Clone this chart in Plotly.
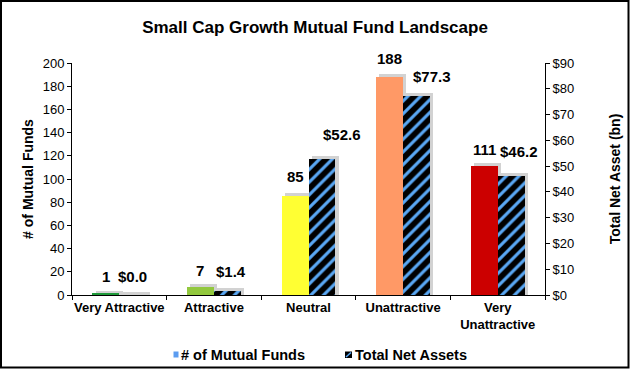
import plotly.graph_objects as go

categories = ["Very Attractive", "Attractive", "Neutral", "Unattractive", "Very<br>Unattractive"]
fund_counts = [1, 7, 85, 188, 111]
net_assets = [0.0, 1.4, 52.6, 77.3, 46.2]
count_labels = ["1", "7", "85", "188", "111"]
asset_labels = ["$0.0", "$1.4", "$52.6", "$77.3", "$46.2"]
count_colors = ["#1f9a3a", "#92c83e", "#ffff33", "#ff9966", "#cc0000"]

# label nudges (pixels) as placed in the original chart
asset_label_dx = [0, 4, 20, 15, 8]
asset_label_dy = [10, 11, 16, 11, 16]
count_label_dy = [9, 8, 11, 10, 8]

W, H = 630, 369
L, R, T, B = 72, 85, 63, 74
pw, ph = W - L - R, H - T - B
FONT = "Liberation Sans, Arial, sans-serif"
bw = 0.285
sh_dx = 0.035
sh_count = 2.6   # shadow rise in left-axis units
sh_asset = 1.15  # shadow rise in right-axis units
SHADOW = "rgba(165,165,165,0.5)"
BLUE = "#5aa8f5"


def px(x):
    return (x - L) / pw


def py(y):
    return (H - B - y) / ph


fig = go.Figure()

# drop shadows
fig.add_trace(go.Bar(x=categories, y=[v + sh_count for v in fund_counts], showlegend=False,
                     marker=dict(color=SHADOW, line=dict(width=0)), width=bw, offset=-bw + sh_dx,
                     yaxis="y", hoverinfo="skip"))
fig.add_trace(go.Bar(x=categories, y=[v + sh_asset for v in net_assets], showlegend=False,
                     marker=dict(color=SHADOW, line=dict(width=0)), width=bw, offset=sh_dx,
                     yaxis="y2", hoverinfo="skip"))

fig.add_trace(go.Bar(x=categories, y=fund_counts, name="# of Mutual Funds", showlegend=False,
                     marker=dict(color=count_colors, line=dict(width=0)),
                     width=bw, offset=-bw, yaxis="y"))

fig.add_trace(go.Bar(x=categories, y=net_assets, name="Total Net Assets", showlegend=False,
                     marker=dict(color="black", line=dict(width=0),
                                 pattern=dict(shape="/", fgcolor=BLUE, bgcolor="black",
                                              size=9, solidity=0.35, fillmode="replace")),
                     width=bw, offset=0, yaxis="y2"))

annotations = []
for i, (v, t, dy) in enumerate(zip(fund_counts, count_labels, count_label_dy)):
    annotations.append(dict(x=i - bw / 2, y=v, xref="x", yref="y", text=f"<b>{t}</b>",
                            showarrow=False, yanchor="bottom", xanchor="center", yshift=dy - 2,
                            font=dict(family=FONT, size=15, color="black")))
for i, (v, t, dx, dy) in enumerate(zip(net_assets, asset_labels, asset_label_dx, asset_label_dy)):
    annotations.append(dict(x=i + bw / 2, y=v, xref="x", yref="y2", text=f"<b>{t}</b>",
                            showarrow=False, yanchor="bottom", xanchor="center",
                            xshift=dx, yshift=dy - 2,
                            font=dict(family=FONT, size=15, color="black")))

# legend (drawn manually to match compact original legend)
annotations.append(dict(x=px(179), y=py(354.5), xref="paper", yref="paper", xanchor="left",
                        yanchor="middle", showarrow=False, text="<b># of Mutual Funds</b>",
                        font=dict(family=FONT, size=14.5, color="black")))
annotations.append(dict(x=px(353), y=py(354.5), xref="paper", yref="paper", xanchor="left",
                        yanchor="middle", showarrow=False, text="<b>Total Net Assets</b>",
                        font=dict(family=FONT, size=14.5, color="black")))

shapes = [
    dict(type="rect", xref="paper", yref="paper", x0=px(173.5), x1=px(178.5), y0=py(357.5), y1=py(351.5),
         fillcolor="#5b9cf0", line=dict(width=0)),
    dict(type="rect", xref="paper", yref="paper", x0=px(345), x1=px(352), y0=py(358), y1=py(351.5),
         fillcolor="black", line=dict(width=0)),
    dict(type="line", xref="paper", yref="paper", x0=px(346), x1=px(351), y0=py(357), y1=py(352.5),
         line=dict(color=BLUE, width=1.5)),
    dict(type="rect", xref="paper", yref="paper",
         x0=-(L - 1) / pw, x1=1 + (R - 1.5) / pw, y0=-(B - 1.5) / ph, y1=1 + (T - 1) / ph,
         line=dict(color="black", width=2), fillcolor="rgba(0,0,0,0)", layer="above"),
]

fig.update_layout(
    width=W, height=H,
    margin=dict(l=L, r=R, t=T, b=B, autoexpand=False),
    paper_bgcolor="white", plot_bgcolor="white",
    font=dict(family=FONT, size=13, color="black"),
    title=dict(text="<b>Small Cap Growth Mutual Fund Landscape</b>", x=0.5, xanchor="center",
               y=1 - 27 / H, yanchor="middle", font=dict(size=17, family=FONT)),
    barmode="group", bargap=0,
    showlegend=False,
    xaxis=dict(showline=True, linecolor="black", linewidth=1, ticks="outside",
               tickson="boundaries", ticklen=4, tickcolor="black", tickangle=0,
               automargin=False,
               tickfont=dict(size=13, family=FONT), showgrid=False,
               tickprefix="<b>", ticksuffix="</b>"),
    yaxis=dict(range=[0, 200], dtick=20, showline=True, linecolor="black", linewidth=1,
               ticks="outside", ticklen=4, tickcolor="black", showgrid=False, zeroline=False,
               automargin=False,
               tickfont=dict(size=13, family=FONT),
               title=dict(text="<b># of Mutual Funds</b>", font=dict(size=14, family=FONT), standoff=5)),
    yaxis2=dict(range=[0, 90], dtick=10, overlaying="y", side="right", tickprefix="$",
                showline=True, linecolor="black", linewidth=1, ticks="outside", ticklen=4,
                tickcolor="black", showgrid=False, zeroline=False, automargin=False,
                tickfont=dict(size=13, family=FONT),
                title=dict(text="<b>Total Net Asset (bn)</b>", font=dict(size=14, family=FONT), standoff=36)),
    annotations=annotations,
    shapes=shapes,
)

fig.write_html("out.html", config={"displayModeBar": False},
               post_script="document.body.style.margin='0px';document.body.style.overflow='hidden';")
